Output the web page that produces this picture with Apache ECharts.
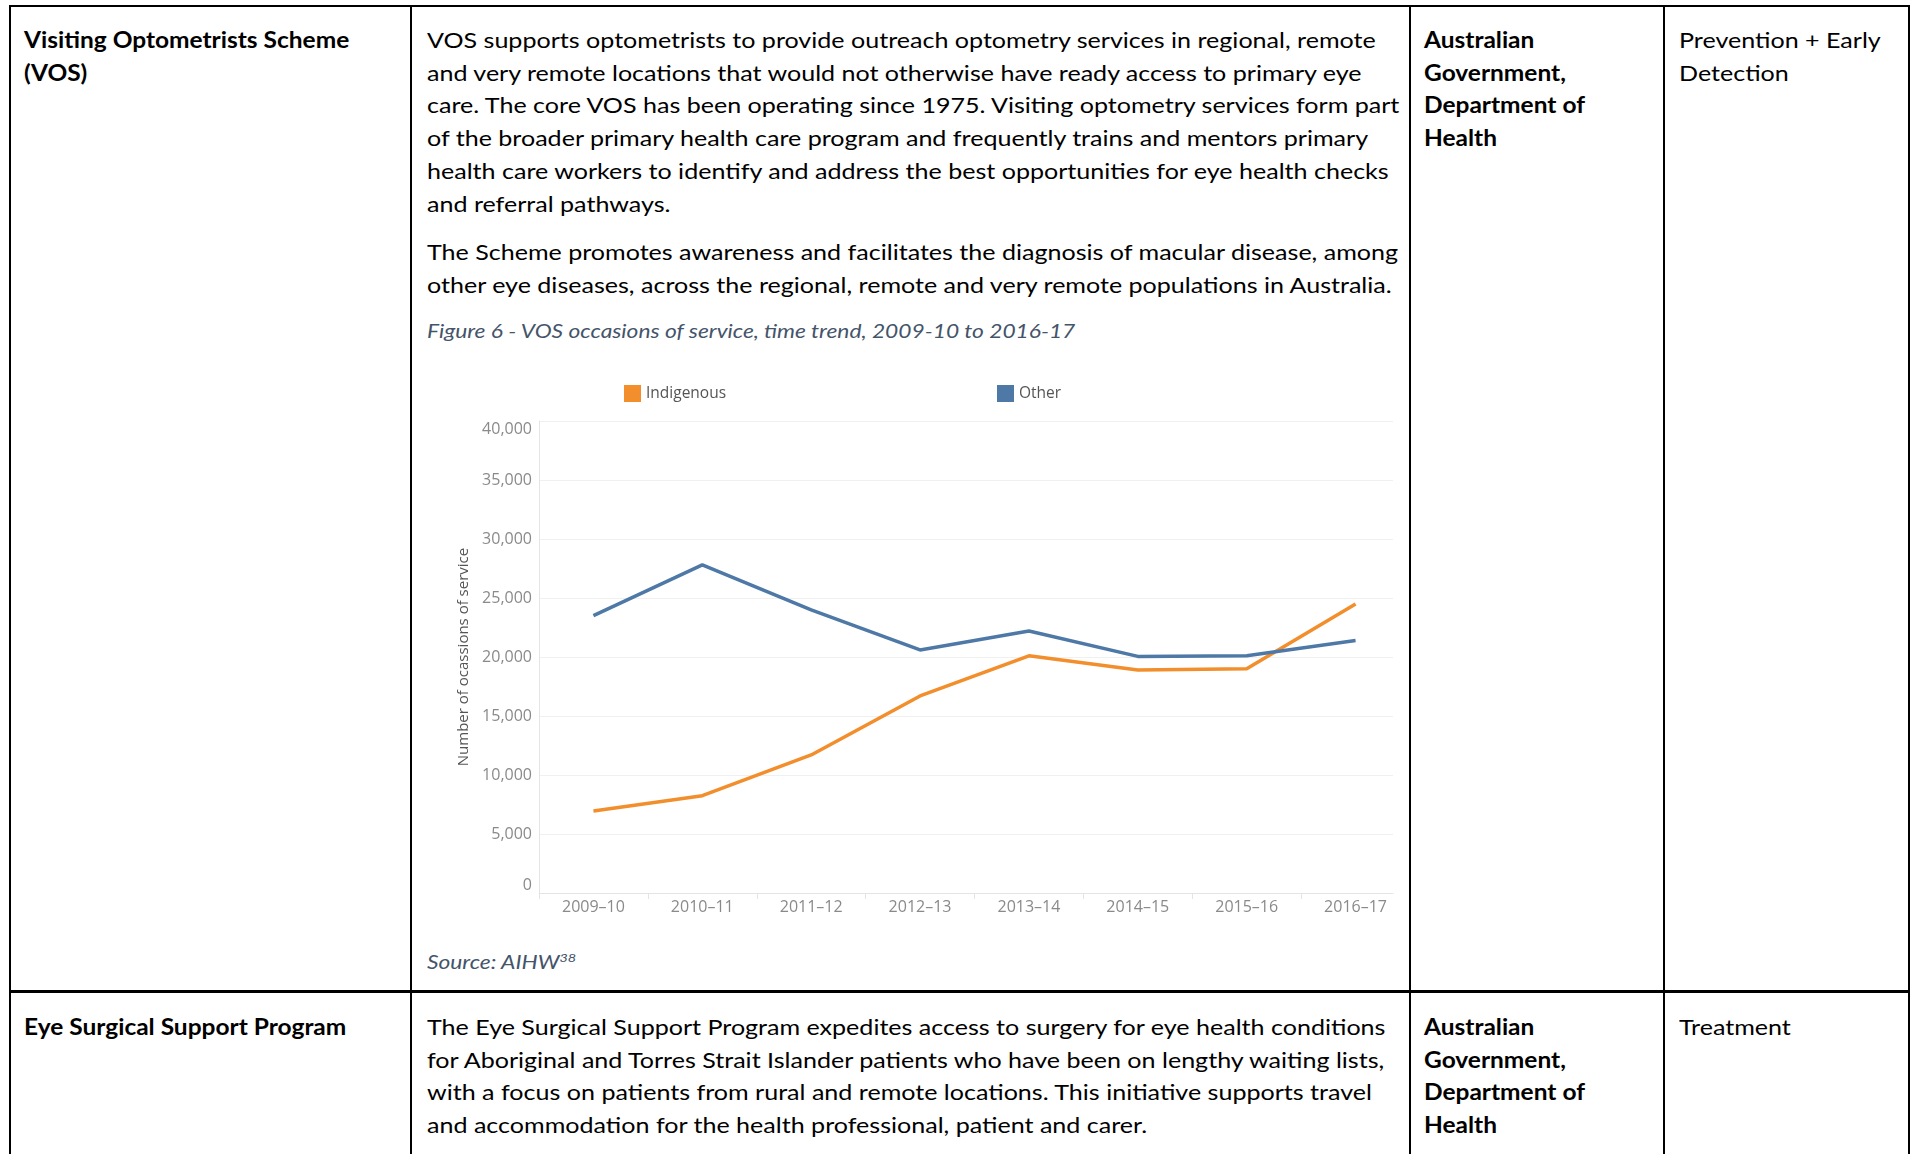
<!DOCTYPE html>
<html><head><meta charset="utf-8">
<script src="https://cdn.jsdelivr.net/npm/echarts@6/dist/echarts.min.js"></script>
<style>
html,body{margin:0;padding:0;background:#fff;width:1912px;height:1154px;overflow:hidden;}
.hl{position:absolute;background:#000;z-index:5;}
.txt{position:absolute;font-family:Lato,'Open Sans',sans-serif;font-size:22px;line-height:32.7px;color:#000;white-space:nowrap;transform-origin:0 0;}
.txt div{width:max-content;}
.b{font-weight:bold;}
.cap{position:absolute;font-family:Lato,'Open Sans',sans-serif;font-style:italic;font-size:19px;line-height:24px;color:#44546A;white-space:nowrap;transform-origin:0 0;}
.cap sup{font-size:12px;vertical-align:7px;line-height:0;}
#chart{position:absolute;left:412px;top:300px;width:998px;height:650px;}
</style></head><body>

<div class="hl" style="left:9px;top:5px;width:1901px;height:2px"></div>
<div class="hl" style="left:9px;top:990px;width:1901px;height:3px"></div>
<div class="hl" style="left:9px;top:5px;width:2px;height:1149px"></div>
<div class="hl" style="left:410px;top:5px;width:2px;height:1149px"></div>
<div class="hl" style="left:1409px;top:5px;width:2px;height:1149px"></div>
<div class="hl" style="left:1663px;top:5px;width:2px;height:1149px"></div>
<div class="hl" style="left:1908px;top:5px;width:2px;height:1149px"></div>

<div class="txt b sb" style="left:24px;top:24px"><div id="refB">Visiting Optometrists Scheme</div><div>(VOS)</div></div>
<div class="txt sr" style="left:427px;top:24px">
<div>VOS supports optometrists to provide outreach optometry services in regional, remote</div>
<div>and very remote locations that would not otherwise have ready access to primary eye</div>
<div>care. The core VOS has been operating since 1975. Visiting optometry services form part</div>
<div>of the broader primary health care program and frequently trains and mentors primary</div>
<div>health care workers to identify and address the best opportunities for eye health checks</div>
<div>and referral pathways.</div>
</div>
<div class="txt sr" style="left:427px;top:236px">
<div>The Scheme promotes awareness and facilitates the diagnosis of macular disease, among</div>
<div id="refR">other eye diseases, across the regional, remote and very remote populations in Australia.</div>
</div>
<div class="cap sc" style="left:427px;top:319px"><span id="refC">Figure 6 - VOS occasions of service, time trend, 2009-10 to 2016-17</span></div>
<div class="cap sc" style="left:427px;top:950px">Source: AIHW<sup>38</sup></div>
<div class="txt b sb" style="left:1424px;top:24px"><div>Australian</div><div>Government,</div><div>Department of</div><div>Health</div></div>
<div class="txt sr" style="left:1679px;top:24px"><div>Prevention + Early</div><div>Detection</div></div>

<div class="txt b sb" style="left:24px;top:1011px"><div>Eye Surgical Support Program</div></div>
<div class="txt sr" style="left:427px;top:1011px">
<div>The Eye Surgical Support Program expedites access to surgery for eye health conditions</div>
<div>for Aboriginal and Torres Strait Islander patients who have been on lengthy waiting lists,</div>
<div>with a focus on patients from rural and remote locations. This initiative supports travel</div>
<div>and accommodation for the health professional, patient and carer.</div>
</div>
<div class="txt b sb" style="left:1424px;top:1011px"><div>Australian</div><div>Government,</div><div>Department of</div><div>Health</div></div>
<div class="txt sr" style="left:1679px;top:1011px"><div>Treatment</div></div>

<div id="chart"></div>

<script>
// ---- data ----
var categories = ['2009–10','2010–11','2011–12','2012–13','2013–14','2014–15','2015–16','2016–17'];
var indigenous = [6950, 8250, 11700, 16700, 20100, 18900, 19000, 24500];
var other = [23500, 27800, 24000, 20600, 22200, 20050, 20100, 21400];
var yTicks = {min: 0, max: 40000, interval: 5000};

function fit(){
  var pairs = [['refR','.sr',965],['refB','.sb',325],['refC','.sc',648]];
  pairs.forEach(function(p){
    var el = document.getElementById(p[0]);
    var w = el.offsetWidth;
    if(!w) return;
    var k = p[2]/w;
    document.querySelectorAll(p[1]).forEach(function(d){ d.style.transform = 'scaleX(' + k + ')'; });
  });
}
fit();
if (document.fonts && document.fonts.ready) document.fonts.ready.then(fit);

var chart = echarts.init(document.getElementById('chart'), null, {renderer: 'canvas'});
var gray = '#8a8a8a';
var axisGray = '#e4e4e4';
chart.setOption({
  animation: false,
  textStyle: {fontFamily: 'Open Sans'},
  legend: [
    {data: ['Indigenous'], left: 212, top: 85, padding: 0, icon: 'rect', itemWidth: 17, itemHeight: 17,
     textStyle: {color: '#555', fontSize: 15.5, fontFamily: 'Open Sans'}},
    {data: ['Other'], left: 585, top: 85, padding: 0, icon: 'rect', itemWidth: 17, itemHeight: 17,
     textStyle: {color: '#555', fontSize: 15.5, fontFamily: 'Open Sans'}}
  ],
  grid: [
    {left: 127, right: 0, top: 121, bottom: 57, containLabel: false},
    {left: 127, width: 854, top: 121, bottom: 57, containLabel: false}
  ],
  xAxis: [
    {
      type: 'category', data: categories, boundaryGap: true, gridIndex: 0,
      axisLine: {show: false},
      axisTick: {show: true, length: 6, lineStyle: {color: axisGray}},
      axisLabel: {color: gray, fontSize: 16, margin: 6, interval: 0}
    },
    {
      type: 'value', gridIndex: 1, min: 0, max: 1,
      axisLine: {show: true, onZero: false, lineStyle: {color: axisGray}},
      axisTick: {show: false}, axisLabel: {show: false}, splitLine: {show: false}
    }
  ],
  yAxis: [
    {
      type: 'value', gridIndex: 0, min: yTicks.min, max: yTicks.max, interval: yTicks.interval,
      name: 'Number of ocassions of service', nameLocation: 'middle', nameGap: 68, nameRotate: 90,
      nameTextStyle: {color: '#555', fontSize: 15, fontFamily: 'Open Sans'},
      axisLine: {show: true, lineStyle: {color: axisGray}},
      axisTick: {show: false},
      splitLine: {show: false},
      axisLabel: {color: gray, fontSize: 16, margin: 7,
        verticalAlignMinLabel: 'bottom', verticalAlignMaxLabel: 'top',
        formatter: function(v){ return v.toLocaleString('en-US'); }}
    },
    {
      type: 'value', gridIndex: 1, min: yTicks.min, max: yTicks.max, interval: yTicks.interval,
      axisLine: {show: false}, axisTick: {show: false}, axisLabel: {show: false},
      splitLine: {show: true, lineStyle: {color: '#f0f0f0'}}
    }
  ],
  series: [
    {name: 'Indigenous', type: 'line', data: indigenous, symbol: 'none', color: '#F28E2B',
     xAxisIndex: 0, yAxisIndex: 0, lineStyle: {width: 3.5, color: '#F28E2B'}},
    {name: 'Other', type: 'line', data: other, symbol: 'none', color: '#4E79A7',
     xAxisIndex: 0, yAxisIndex: 0, lineStyle: {width: 3.5, color: '#4E79A7'}}
  ]
});
</script>
</body></html>
